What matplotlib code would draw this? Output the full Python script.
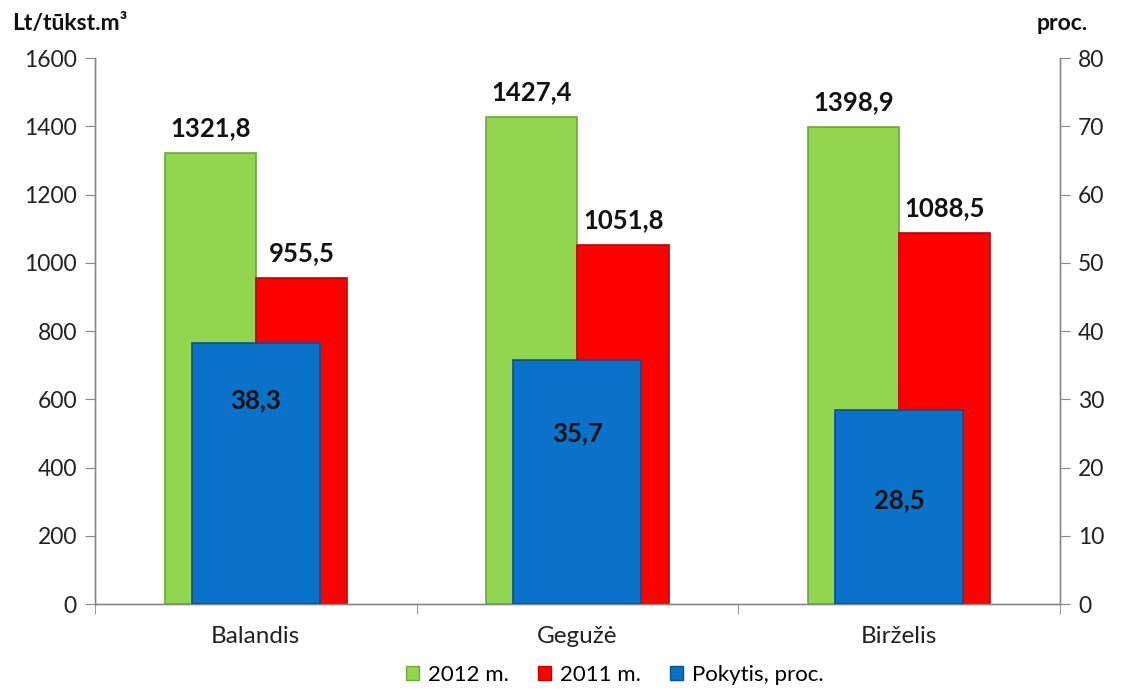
import matplotlib
matplotlib.use("Agg")
import matplotlib.pyplot as plt
import numpy as np
from matplotlib.patches import Patch

plt.rcParams['font.family'] = ['Lato', 'DejaVu Sans']

categories = ["Balandis", "Gegužė", "Birželis"]
vals_2012 = [1321.8, 1427.4, 1398.9]
vals_2011 = [955.5, 1051.8, 1088.5]
pokytis = [38.3, 35.7, 28.5]
label_2012 = ["1321,8", "1427,4", "1398,9"]
label_2011 = ["955,5", "1051,8", "1088,5"]
label_pok = ["38,3", "35,7", "28,5"]
# vertical placement of the percent labels (percent-axis units)
pok_label_y = [29.9, 25.1, 15.2]

c_green = "#92D64F"
c_red = "#FF0000"
c_blue = "#0A72C8"

fig = plt.figure(figsize=(11.22, 6.93), dpi=100)
ax = fig.add_axes([0.0847, 0.1284, 0.8600, 0.7879])
ax2 = ax.twinx()

x = np.arange(len(categories))
w = 0.284
ax.bar(x - w / 2, vals_2012, w, color=c_green, edgecolor="#6FA83A", linewidth=1.2, zorder=2)
ax.bar(x + w / 2, vals_2011, w, color=c_red, edgecolor="#C00000", linewidth=1.2, zorder=2)
ax2.bar(x, pokytis, 0.398, color=c_blue, edgecolor="#0A4F8C", linewidth=1.2, zorder=3)

ax.set_xlim(-0.5, 2.5)
ax.set_ylim(0, 1600)
ax2.set_ylim(0, 80)
ax.set_yticks(np.arange(0, 1601, 200))
ax2.set_yticks(np.arange(0, 81, 10))
ax.set_xticks(x)
ax.set_xticklabels(categories, fontsize=17.5)
ax.tick_params(axis='x', length=0, pad=16, colors="#222222")
ax.set_xticks([-0.5, 0.5, 1.5, 2.5], minor=True)
ax.tick_params(axis='x', which='minor', length=7, color="#888888", direction='out')
ax.tick_params(axis='y', length=7, color="#888888", labelsize=16.5, labelcolor="#222222", pad=6)
ax2.tick_params(axis='y', length=7, color="#888888", labelsize=16.5, labelcolor="#222222", pad=6)

for a in (ax, ax2):
    a.spines['top'].set_visible(False)
    for s in ('left', 'right', 'bottom'):
        a.spines[s].set_color("#888888")
        a.spines[s].set_linewidth(1.0)
ax2.set_zorder(ax.get_zorder() + 1)
ax2.patch.set_visible(False)

for i in range(len(categories)):
    ax.annotate(label_2012[i], (x[i] - w / 2, vals_2012[i]), xytext=(0, 9),
                textcoords='offset points', ha='center', va='bottom',
                fontsize=18.5, fontweight='bold', color="#111111", zorder=5)
    ax.annotate(label_2011[i], (x[i] + w / 2, vals_2011[i]), xytext=(0, 9),
                textcoords='offset points', ha='center', va='bottom',
                fontsize=18.5, fontweight='bold', color="#111111", zorder=5)
    ax2.text(x[i], pok_label_y[i], label_pok[i], ha='center', va='center',
             fontsize=18.5, fontweight='bold', color="#111111", zorder=6)

fig.text(0.011, 0.966, "Lt/tūkst.m³", fontsize=16.5, fontweight='bold',
         ha='left', va='center', color="#111111")
fig.text(0.947, 0.966, "proc.", fontsize=16.5, fontweight='bold',
         ha='center', va='center', color="#111111")

handles = [Patch(facecolor=c_green, edgecolor="#6FA83A"),
           Patch(facecolor=c_red, edgecolor="#C00000"),
           Patch(facecolor=c_blue, edgecolor="#0A4F8C")]
fig.legend(handles, ["2012 m.", "2011 m.", "Pokytis, proc."], loc='center',
           bbox_to_anchor=(0.548, 0.026), ncol=3, frameon=False, fontsize=16,
           handlelength=0.6, handleheight=0.6, handletextpad=0.4, columnspacing=1.3)

fig.savefig("out.png", dpi=100)
